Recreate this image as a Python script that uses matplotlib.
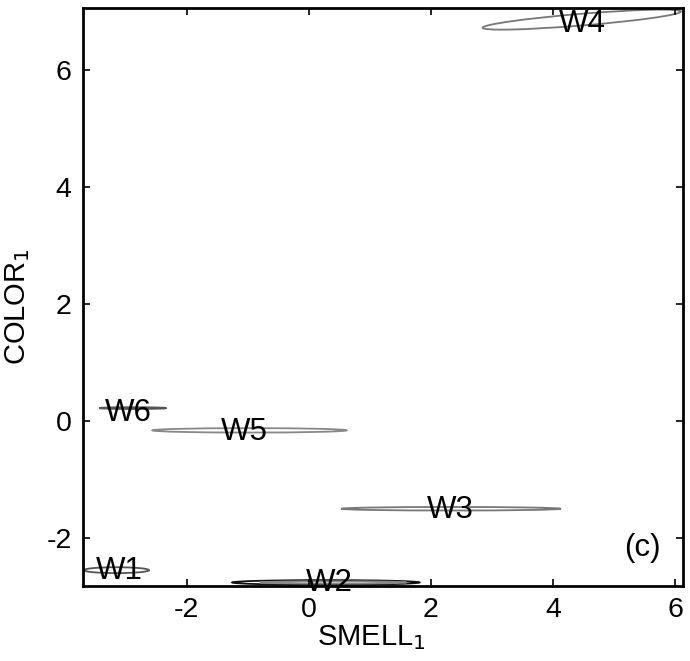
import matplotlib
matplotlib.use("Agg")
import matplotlib.pyplot as plt
from matplotlib.patches import Ellipse

plt.rcParams['font.family'] = ['Liberation Sans', 'DejaVu Sans']
plt.rcParams['axes.unicode_minus'] = False

# ellipse data: label, center x, center y, width, height, angle(deg), color
names = ["W1", "W2", "W2", "W3", "W4", "W5", "W6"]
cx = [-3.15, 0.28, 0.40, 2.33, 4.47, -0.97, -2.88]
cy = [-2.55, -2.76, -2.76, -1.50, 6.86, -0.16, 0.22]
widths = [1.07, 3.07, 2.4, 3.60, 3.26, 3.18, 1.10]
heights = [0.10, 0.08, 0.04, 0.06, 0.20, 0.075, 0.03]
angles = [0.0, 0.0, 0.0, 0.0, 4.9, 0.0, 0.0]
colors = ["#555555", "#111111", "#888888", "#777777", "#777777", "#888888", "#555555"]

# label positions
lab_names = ["W1", "W2", "W3", "W4", "W5", "W6"]
lab_x = [-3.11, 0.34, 2.31, 4.48, -1.05, -2.95]
lab_y = [-2.56, -2.77, -1.52, 6.79, -0.19, 0.14]

xticks = [-2, 0, 2, 4, 6]
yticks = [-2, 0, 2, 4, 6]

fig = plt.figure(figsize=(6.9, 6.61), dpi=100)
ax = fig.add_axes([0.120, 0.1135, 0.870, 0.8745])

for x, y, w, h, a, c in zip(cx, cy, widths, heights, angles, colors):
    ax.add_patch(Ellipse((x, y), w, h, angle=a, fill=False, edgecolor=c, lw=1.3))

for n, x, y in zip(lab_names, lab_x, lab_y):
    ax.text(x, y, n, fontsize=22.5, ha='center', va='center', clip_on=False)

ax.text(5.46, -2.17, "(c)", fontsize=22.5, ha='center', va='center')

ax.set_xlim(-3.70, 6.13)
ax.set_ylim(-2.82, 7.06)
ax.set_xticks(xticks)
ax.set_yticks(yticks)
ax.tick_params(direction='in', top=True, right=True, length=5, width=1.2,
               labelsize=20.5, pad=8)
for s in ax.spines.values():
    s.set_linewidth(2.0)

ax.set_xlabel(r"SMELL$_1$", fontsize=21)
ax.set_ylabel(r"COLOR$_1$", fontsize=21)
ax.xaxis.set_label_coords(0.48, -0.065)
ax.yaxis.set_label_coords(-0.085, 0.483)

fig.savefig("out.png", dpi=100)
